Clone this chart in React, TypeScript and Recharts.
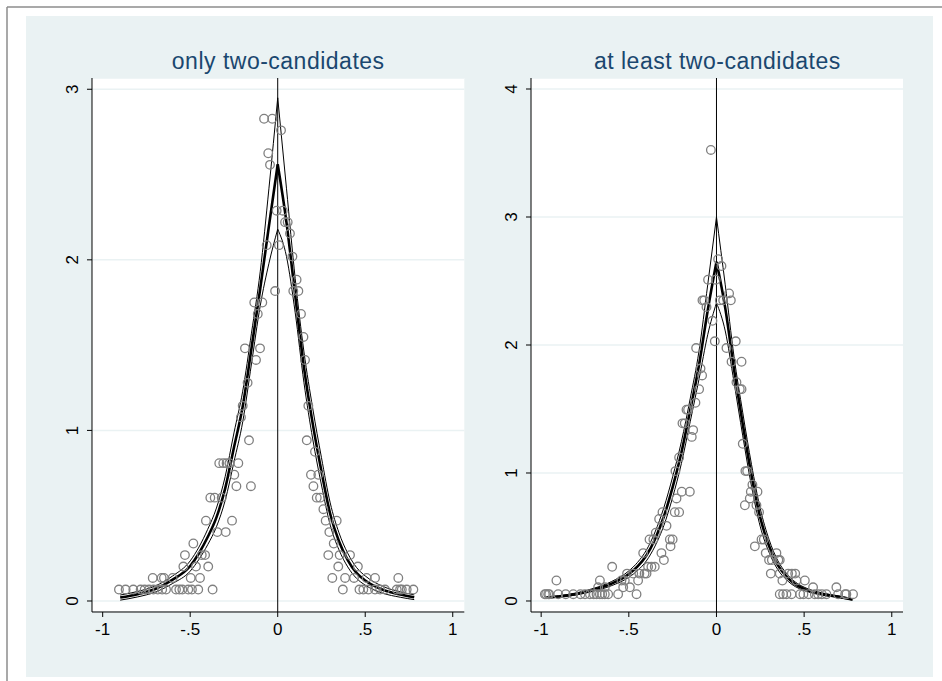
import React from "react";
import {
  ComposedChart,
  Scatter,
  Line,
  XAxis,
  YAxis,
  CartesianGrid,
  ReferenceLine,
} from "recharts";

const FONT = '"Liberation Sans", Arial, Helvetica, sans-serif';
const TITLE_COLOR = "#1a476f";
const BG = "#eaf2f3";

const xTicks = [-1, -0.5, 0, 0.5, 1];
const xTickLabels = ["-1", "-.5", "0", ".5", "1"];

// ---- only two-candidates ----
const onlyTitle = "only two-candidates";
const onlyYTicks = [0, 1, 2, 3];
// bin points [x, density]
const onlyDots: [number, number][] = [
  [-0.907, 0.067], [-0.869, 0.067], [-0.825, 0.067], [-0.783, 0.067], [-0.76, 0.067], [-0.735, 0.067],
  [-0.71, 0.067], [-0.685, 0.067], [-0.66, 0.067], [-0.638, 0.067], [-0.581, 0.067], [-0.562, 0.067],
  [-0.545, 0.067], [-0.511, 0.067], [-0.49, 0.067], [-0.454, 0.067], [-0.372, 0.067],
  [0.372, 0.067], [0.467, 0.067], [0.489, 0.067], [0.518, 0.067], [0.556, 0.067], [0.585, 0.067],
  [0.613, 0.067], [0.68, 0.067], [0.699, 0.067], [0.709, 0.067], [0.737, 0.067], [0.775, 0.067],
  [-0.714, 0.135], [-0.663, 0.135], [-0.65, 0.135], [-0.6, 0.135], [-0.497, 0.135], [-0.444, 0.135],
  [0.312, 0.135], [0.385, 0.135], [0.436, 0.135], [0.508, 0.135], [0.556, 0.135], [0.689, 0.135],
  [-0.539, 0.202], [-0.467, 0.202], [-0.397, 0.202], [0.346, 0.202], [0.458, 0.202],
  [-0.53, 0.269], [-0.434, 0.269], [-0.415, 0.269], [0.289, 0.269], [0.354, 0.269], [0.413, 0.269],
  [-0.482, 0.337], [0.32, 0.337],
  [-0.345, 0.404], [-0.297, 0.404], [0.295, 0.404],
  [-0.41, 0.471], [-0.261, 0.471], [0.274, 0.471], [0.337, 0.471],
  [0.261, 0.538],
  [-0.385, 0.606], [-0.36, 0.606], [-0.32, 0.606], [0.223, 0.606], [0.242, 0.606],
  [-0.236, 0.673], [-0.153, 0.673], [0.204, 0.673],
  [-0.248, 0.74], [0.19, 0.74], [0.232, 0.74],
  [-0.334, 0.808], [-0.311, 0.808], [-0.292, 0.808], [-0.276, 0.808], [-0.225, 0.808],
  [0.213, 0.875],
  [-0.164, 0.942], [0.166, 0.942],
  [-0.21, 1.077],
  [-0.2, 1.144], [0.175, 1.144],
  [-0.172, 1.279],
  [-0.124, 1.413], [0.156, 1.413],
  [-0.187, 1.481], [-0.101, 1.481],
  [0.147, 1.548],
  [-0.114, 1.683], [0.133, 1.683],
  [-0.134, 1.75], [-0.088, 1.75],
  [-0.015, 1.817], [0.089, 1.817], [0.118, 1.817],
  [0.108, 1.884],
  [0.084, 2.019],
  [-0.063, 2.086], [0.007, 2.086],
  [0.07, 2.154],
  [0.042, 2.221], [0.057, 2.221],
  [-0.006, 2.288], [0.029, 2.288],
  [-0.044, 2.557],
  [-0.054, 2.625],
  [0.019, 2.759],
  [-0.078, 2.827], [-0.031, 2.827],
];
const onlyLeftX = [-0.9, -0.8, -0.7, -0.6, -0.5, -0.45, -0.4, -0.35, -0.3, -0.25, -0.2, -0.15, -0.1, -0.05, 0];
const onlyLeftFit = [0.02, 0.04, 0.07, 0.125, 0.205, 0.28, 0.375, 0.49, 0.66, 0.9, 1.14, 1.48, 1.83, 2.2, 2.56];
const onlyLeftHi = [0.035, 0.056, 0.088, 0.147, 0.235, 0.316, 0.42, 0.545, 0.73, 0.985, 1.23, 1.57, 1.93, 2.42, 2.95];
const onlyLeftLo = [0.005, 0.024, 0.052, 0.103, 0.175, 0.244, 0.33, 0.435, 0.59, 0.815, 1.05, 1.39, 1.73, 1.98, 2.18];
const onlyRightX = [0, 0.05, 0.1, 0.15, 0.2, 0.25, 0.3, 0.35, 0.4, 0.45, 0.5, 0.6, 0.7, 0.78];
const onlyRightFit = [2.56, 2.22, 1.79, 1.37, 1.04, 0.76, 0.51, 0.35, 0.24, 0.165, 0.12, 0.066, 0.038, 0.022];
const onlyRightHi = [2.95, 2.42, 1.89, 1.46, 1.13, 0.84, 0.575, 0.4, 0.28, 0.197, 0.147, 0.086, 0.054, 0.036];
const onlyRightLo = [2.18, 2.02, 1.69, 1.28, 0.95, 0.68, 0.445, 0.3, 0.2, 0.133, 0.093, 0.046, 0.022, 0.008];

// ---- at least two-candidates ----
const atLeastTitle = "at least two-candidates";
const atLeastYTicks = [0, 1, 2, 3, 4];
const atLeastDots: [number, number][] = [
  [-0.979, 0.053], [-0.972, 0.053], [-0.96, 0.053], [-0.954, 0.053], [-0.903, 0.053], [-0.86, 0.053],
  [-0.817, 0.053], [-0.776, 0.053], [-0.75, 0.053], [-0.722, 0.053], [-0.7, 0.053], [-0.684, 0.053],
  [-0.665, 0.053], [-0.652, 0.053], [-0.637, 0.053], [-0.618, 0.053], [-0.561, 0.053], [-0.456, 0.053],
  [0.361, 0.053], [0.38, 0.053], [0.399, 0.053], [0.428, 0.053], [0.477, 0.053], [0.496, 0.053],
  [0.525, 0.053], [0.561, 0.053], [0.58, 0.053], [0.601, 0.053], [0.627, 0.053], [0.694, 0.053],
  [0.734, 0.053], [0.741, 0.053], [0.779, 0.053],
  [-0.675, 0.107], [-0.637, 0.107], [-0.532, 0.107], [-0.494, 0.107], [0.551, 0.107], [0.684, 0.107],
  [-0.913, 0.16], [-0.665, 0.16], [-0.542, 0.16], [-0.523, 0.16], [-0.447, 0.16],
  [0.376, 0.16], [0.456, 0.16], [0.504, 0.16],
  [-0.51, 0.214], [-0.475, 0.214], [-0.44, 0.214], [-0.41, 0.214], [-0.399, 0.214],
  [0.31, 0.214], [0.361, 0.214], [0.409, 0.214], [0.43, 0.214], [0.449, 0.214],
  [-0.595, 0.267], [-0.39, 0.267], [-0.371, 0.267], [-0.352, 0.267],
  [-0.3, 0.32], [0.3, 0.32], [0.316, 0.32], [0.353, 0.32], [0.361, 0.32],
  [-0.418, 0.374], [-0.314, 0.374], [0.281, 0.374], [0.342, 0.374],
  [-0.262, 0.427], [0.219, 0.427],
  [-0.382, 0.481], [-0.36, 0.481], [-0.266, 0.481], [-0.25, 0.481], [0.257, 0.481], [0.27, 0.481],
  [-0.346, 0.534],
  [-0.285, 0.587],
  [-0.327, 0.641],
  [-0.308, 0.694], [-0.238, 0.694], [-0.213, 0.694], [0.243, 0.694],
  [0.162, 0.748], [0.228, 0.748],
  [-0.228, 0.801], [0.19, 0.801],
  [-0.198, 0.854], [-0.152, 0.854], [0.196, 0.854], [0.234, 0.854],
  [0.205, 0.908],
  [-0.234, 1.015], [0.165, 1.015], [0.175, 1.015],
  [-0.213, 1.121],
  [0.15, 1.228],
  [-0.141, 1.282],
  [-0.133, 1.335],
  [-0.194, 1.388], [-0.181, 1.388],
  [-0.171, 1.495], [-0.162, 1.495],
  [-0.12, 1.549],
  [-0.099, 1.655], [0.133, 1.655], [0.143, 1.655],
  [0.114, 1.709],
  [-0.082, 1.762],
  [-0.091, 1.816],
  [0.086, 1.869], [0.143, 1.869],
  [-0.116, 1.976], [0.057, 1.976],
  [-0.0095, 2.029], [0.11, 2.029],
  [-0.023, 2.189],
  [-0.057, 2.296],
  [-0.08, 2.349], [-0.07, 2.349], [0.019, 2.349], [0.038, 2.349], [0.082, 2.349],
  [0.072, 2.403],
  [-0.048, 2.51], [-0.004, 2.51],
  [0.0285, 2.617],
  [0.0095, 2.67],
  [-0.032, 3.524],
];
const atLeastLeftX = [-0.97, -0.9, -0.8, -0.7, -0.6, -0.5, -0.45, -0.4, -0.35, -0.3, -0.25, -0.2, -0.15, -0.1, -0.05, 0];
const atLeastLeftFit = [0.027, 0.035, 0.055, 0.088, 0.135, 0.21, 0.27, 0.355, 0.485, 0.66, 0.89, 1.16, 1.49, 1.84, 2.27, 2.65];
const atLeastLeftHi = [0.032, 0.041, 0.063, 0.099, 0.151, 0.235, 0.302, 0.397, 0.54, 0.73, 0.97, 1.245, 1.58, 1.95, 2.47, 3.0];
const atLeastLeftLo = [0.022, 0.029, 0.047, 0.077, 0.119, 0.185, 0.238, 0.313, 0.43, 0.59, 0.81, 1.075, 1.4, 1.73, 2.08, 2.33];
const atLeastRightX = [0, 0.05, 0.1, 0.15, 0.2, 0.25, 0.3, 0.35, 0.4, 0.45, 0.5, 0.6, 0.7, 0.776];
const atLeastRightFit = [2.65, 2.29, 1.81, 1.38, 0.98, 0.65, 0.43, 0.28, 0.19, 0.13, 0.095, 0.055, 0.032, 0.012];
const atLeastRightHi = [3.0, 2.47, 1.91, 1.47, 1.065, 0.72, 0.48, 0.315, 0.215, 0.148, 0.108, 0.064, 0.038, 0.017];
const atLeastRightLo = [2.33, 2.11, 1.71, 1.29, 0.895, 0.58, 0.38, 0.245, 0.165, 0.112, 0.082, 0.046, 0.026, 0.007];

type Pt = { x: number; y: number };
const zip = (xs: number[], ys: number[]): Pt[] => xs.map((x, i) => ({ x, y: ys[i] }));
const toPts = (d: [number, number][]): Pt[] => d.map(([x, y]) => ({ x, y }));

// plot region geometry (pixels in the 942x681 page)
const PLOT_TOP = 77.7;
const PLOT_H = 534;
const Y_AXIS_W = 40;
const M_LEFT = 22;

function Ring(props: any) {
  const { cx, cy } = props;
  if (cx == null || cy == null) return null;
  return <circle cx={cx} cy={cy} r={4.3} fill="none" stroke="#808080" strokeWidth={1.3} />;
}

function XTick(props: any) {
  const { x, y, payload } = props;
  const i = xTicks.indexOf(payload.value);
  return (
    <text x={x} y={y} dy={12} textAnchor="middle" fontSize={17} fontFamily={FONT} fill="#000">
      {i >= 0 ? xTickLabels[i] : payload.value}
    </text>
  );
}

function YTick(props: any) {
  const { x, y, payload } = props;
  return (
    <text
      x={x}
      y={y}
      transform={`rotate(-90 ${x} ${y})`}
      textAnchor="middle"
      fontSize={17}
      fontFamily={FONT}
      fill="#000"
    >
      {payload.value}
    </text>
  );
}

interface PanelProps {
  plotLeft: number;
  plotW: number;
  dots: Pt[];
  curves: { data: Pt[]; w: number }[];
  yTicks: number[];
  xDomain: [number, number];
  yDomain: [number, number];
}

function Panel({ plotLeft, plotW, dots, curves, yTicks, xDomain, yDomain }: PanelProps) {
  const margin = { top: 20, right: 10, bottom: 8, left: M_LEFT };
  return (
    <div style={{ position: "absolute", left: plotLeft - M_LEFT - Y_AXIS_W, top: PLOT_TOP - margin.top }}>
      <ComposedChart
        width={plotW + M_LEFT + Y_AXIS_W + margin.right}
        height={PLOT_H + margin.top + margin.bottom + 32}
        margin={margin}
      >
        <CartesianGrid vertical={false} stroke={BG} strokeWidth={1.5} fill="#ffffff" />
        <XAxis
          type="number"
          dataKey="x"
          domain={xDomain}
          ticks={xTicks}
          interval={0}
          allowDataOverflow
          height={32}
          tickSize={5}
          tickMargin={6}
          axisLine={{ stroke: "#000" }}
          tickLine={{ stroke: "#000" }}
          tick={<XTick />}
        />
        <YAxis
          type="number"
          dataKey="y"
          domain={yDomain}
          ticks={yTicks}
          interval={0}
          allowDataOverflow
          width={Y_AXIS_W}
          tickSize={5}
          tickMargin={9}
          axisLine={{ stroke: "#000" }}
          tickLine={{ stroke: "#000" }}
          tick={<YTick />}
        />
        <Scatter data={dots} shape={<Ring />} isAnimationActive={false} />
        <ReferenceLine x={0} stroke="#000" strokeWidth={1} />
        {curves.map((c, i) => (
          <Line
            key={i}
            data={c.data}
            dataKey="y"
            type="monotone"
            stroke="#000"
            strokeWidth={c.w}
            dot={false}
            activeDot={false}
            isAnimationActive={false}
          />
        ))}
      </ComposedChart>
    </div>
  );
}

export default function App() {
  const onlyCurves = [
    { data: zip(onlyLeftX, onlyLeftHi), w: 1 },
    { data: zip(onlyLeftX, onlyLeftLo), w: 1 },
    { data: zip(onlyLeftX, onlyLeftFit), w: 2.6 },
    { data: zip(onlyRightX, onlyRightHi), w: 1 },
    { data: zip(onlyRightX, onlyRightLo), w: 1 },
    { data: zip(onlyRightX, onlyRightFit), w: 2.6 },
  ];
  const atLeastCurves = [
    { data: zip(atLeastLeftX, atLeastLeftHi), w: 1 },
    { data: zip(atLeastLeftX, atLeastLeftLo), w: 1 },
    { data: zip(atLeastLeftX, atLeastLeftFit), w: 2.6 },
    { data: zip(atLeastRightX, atLeastRightHi), w: 1 },
    { data: zip(atLeastRightX, atLeastRightLo), w: 1 },
    { data: zip(atLeastRightX, atLeastRightFit), w: 2.6 },
  ];

  const titleStyle = { fontSize: 23, fontFamily: FONT, fill: TITLE_COLOR, letterSpacing: 0.5 };

  return (
    <div style={{ position: "absolute", left: 0, top: 0, width: 942, height: 681, overflow: "hidden", background: "#fff" }}>
      <svg width={942} height={681} style={{ position: "absolute", left: 0, top: 0 }}>
        <rect x={26} y={16} width={907} height={661} fill={BG} />
        <line x1={7} y1={7} x2={942} y2={7} stroke="#8c8c8c" strokeWidth={1.5} />
        <line x1={7} y1={7} x2={7} y2={681} stroke="#8c8c8c" strokeWidth={1.5} />
        <text x={278.2} y={69} textAnchor="middle" style={titleStyle}>
          {onlyTitle}
        </text>
        <text x={717.3} y={69} textAnchor="middle" style={titleStyle}>
          {atLeastTitle}
        </text>
      </svg>
      <Panel
        plotLeft={92}
        plotW={372.3}
        dots={toPts(onlyDots)}
        curves={onlyCurves}
        yTicks={onlyYTicks}
        xDomain={[-1.061, 1.066]}
        yDomain={[-0.0645, 3.066]}
      />
      <Panel
        plotLeft={531.3}
        plotW={372}
        dots={toPts(atLeastDots)}
        curves={atLeastCurves}
        yTicks={atLeastYTicks}
        xDomain={[-1.058, 1.064]}
        yDomain={[-0.086, 4.086]}
      />
    </div>
  );
}
